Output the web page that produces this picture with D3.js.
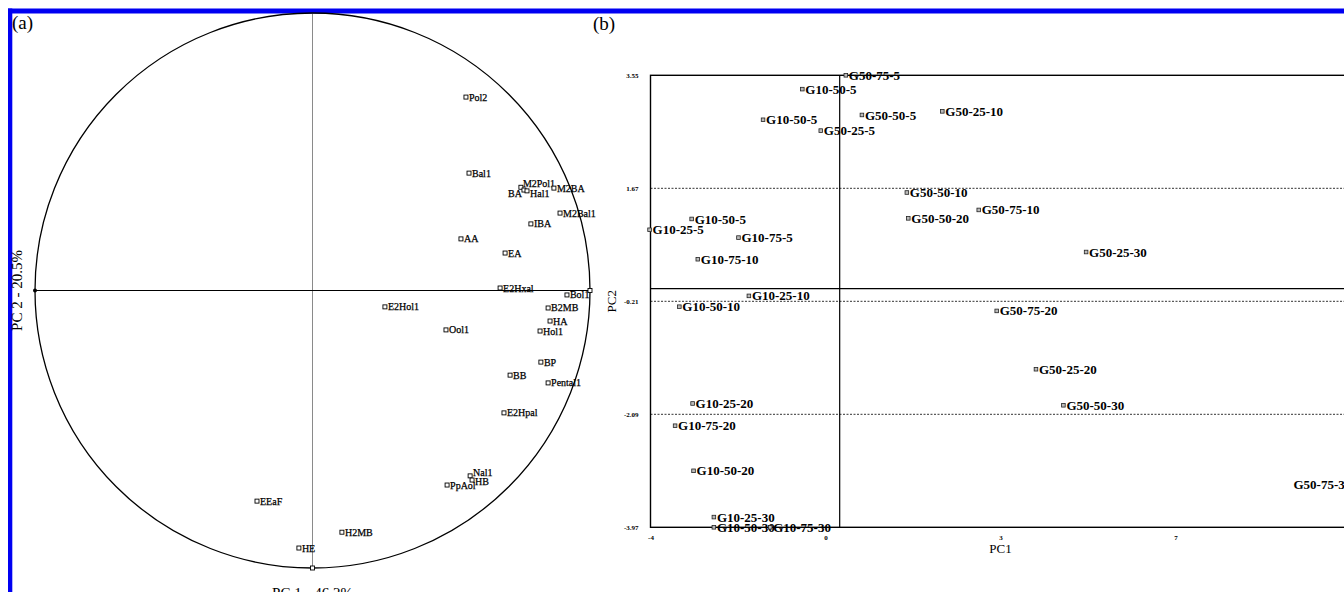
<!DOCTYPE html>
<html>
<head>
<meta charset="utf-8">
<script src="https://cdn.jsdelivr.net/npm/d3@7"></script>
<style>
  html, body { margin: 0; padding: 0; background: #fff; overflow: hidden; }
  svg { display: block; }
</style>
</head>
<body>
<svg id="fig" width="1344" height="592"></svg>
<script>
// ---- (a) loading plot: variables on the correlation circle ----
const loadingNames = ["Pol2", "Bal1", "M2Pol1", "BA", "Hal1", "M2BA", "M2Bal1", "IBA", "AA", "EA",
  "E2Hxal", "Bol1", "E2Hol1", "B2MB", "HA", "Hol1", "Ool1", "BP", "BB", "Pental1",
  "E2Hpal", "Nal1", "HB", "PpAol", "H2MB", "EEaF", "HE"];
const loadingPC1 = [0.553, 0.564, 0.751, 0.762, 0.773, 0.870, 0.892, 0.787, 0.535, 0.694,
  0.676, 0.917, 0.261, 0.849, 0.856, 0.820, 0.481, 0.823, 0.712, 0.849,
  0.690, 0.568, 0.575, 0.485, 0.106, -0.200, -0.049];
const loadingPC2 = [0.697, 0.423, 0.372, 0.362, 0.359, 0.369, 0.279, 0.240, 0.186, 0.135,
  0.009, -0.016, -0.059, -0.063, -0.110, -0.146, -0.142, -0.258, -0.305, -0.333,
  -0.441, -0.668, -0.683, -0.701, -0.871, -0.759, -0.928];

// ---- (b) score plot: samples ----
const sampleNames = ["G50-75-5", "G10-50-5", "G10-50-5", "G50-25-5", "G50-50-5", "G50-25-10",
  "G50-50-10", "G50-50-20", "G50-75-10", "G50-25-30", "G10-50-5", "G10-25-5", "G10-75-5",
  "G10-75-10", "G10-25-10", "G10-50-10", "G50-75-20", "G50-25-20", "G50-50-30",
  "G10-25-20", "G10-75-20", "G10-50-20", "G10-25-30", "G10-50-30", "G10-75-30", "G50-75-30"];
const scorePC1 = [0.13, -0.79, -1.62, -0.40, 0.47, 2.17,
  1.42, 1.45, 2.94, 5.21, -3.13, -4.02, -2.14,
  -3.00, -1.92, -3.39, 3.32, 4.15, 4.73,
  -3.11, -3.48, -3.09, -2.66, -2.66, -1.47, 10.9];
const scorePC2 = [3.55, 3.32, 2.81, 2.63, 2.89, 2.95,
  1.60, 1.17, 1.31, 0.61, 1.16, 0.98, 0.85,
  0.49, -0.12, -0.30, -0.37, -1.34, -1.94,
  -1.91, -2.28, -3.03, -3.80, -3.97, -3.97, -3.25];

const scoreXTicks = [-4, -0.3, 3.4, 7.1];
const scoreXTickLabels = ["-4", "0", "3", "7"];
const scoreYTicks = [-3.97, -2.09, -0.21, 1.67, 3.55];
const scoreYTickLabels = ["-3.97", "-2.09", "-0.21", "1.67", "3.55"];

const serif = "'Liberation Serif','Times New Roman',serif";
const svg = d3.select("#fig");

// outer blue frame (top and left edges)
svg.append("rect").attr("x", 8).attr("y", 8.5).attr("width", 1336).attr("height", 5).attr("fill", "#0000f2");
svg.append("rect").attr("x", 8).attr("y", 8.5).attr("width", 4.3).attr("height", 584).attr("fill", "#0000f2");

// ================= panel (a) =================
const ax = d3.scaleLinear().domain([-1, 1]).range([35, 590]);
const ay = d3.scaleLinear().domain([-1, 1]).range([568, 13]);
const ga = svg.append("g");

ga.append("line")
  .attr("x1", ax(0)).attr("x2", ax(0)).attr("y1", ay(1)).attr("y2", ay(-1))
  .attr("stroke", "#8a8a8a").attr("stroke-width", 1);
ga.append("line")
  .attr("x1", ax(-1)).attr("x2", ax(1)).attr("y1", ay(0)).attr("y2", ay(0))
  .attr("stroke", "#000").attr("stroke-width", 1);
ga.append("circle")
  .attr("cx", ax(0)).attr("cy", ay(0)).attr("r", ax(1) - ax(0))
  .attr("fill", "none").attr("stroke", "#000").attr("stroke-width", 1.3);

// unit reference marks on the circle
ga.append("circle").attr("cx", ax(-1)).attr("cy", ay(0)).attr("r", 2).attr("fill", "#000");
[[1, 0], [0, -1]].forEach(([u, v]) => {
  ga.append("rect").attr("x", ax(u) - 2).attr("y", ay(v) - 2).attr("width", 4).attr("height", 4)
    .attr("fill", "#fff").attr("stroke", "#000").attr("stroke-width", 0.9);
});

// label placement tweaks for crowded variables
const loadNudge = {
  "M2Pol1": { dx: 2, dy: -4 },
  "BA": { dx: -2, dy: 3, anchor: "end" },
  "Hal1": { dx: 3, dy: 3 },
  "Nal1": { dx: 3, dy: -3 },
  "HB": { dx: 3, dy: 1.5 }
};

const loadData = loadingNames.map((n, i) => ({ name: n, x: loadingPC1[i], y: loadingPC2[i] }));
const lp = ga.selectAll("g.var").data(loadData).join("g").attr("class", "var");
lp.append("rect")
  .attr("x", d => ax(d.x) - 2).attr("y", d => ay(d.y) - 2)
  .attr("width", 4).attr("height", 4)
  .attr("fill", "#fff").attr("stroke", "#000").attr("stroke-width", 0.9);
lp.append("text")
  .attr("x", d => ax(d.x) + ((loadNudge[d.name] || {}).dx ?? 3))
  .attr("y", d => ay(d.y) + ((loadNudge[d.name] || {}).dy ?? 0))
  .attr("dy", "0.35em")
  .attr("text-anchor", d => (loadNudge[d.name] || {}).anchor || "start")
  .attr("font-family", serif).attr("font-size", 10).attr("fill", "#000")
  .attr("stroke", "#000").attr("stroke-width", 0.25)
  .text(d => d.name);

ga.append("text")
  .attr("transform", `translate(22,${ay(0)}) rotate(-90)`)
  .attr("text-anchor", "middle")
  .attr("font-family", serif).attr("font-size", 15)
  .text("PC 2 - 20.5%");
ga.append("text")
  .attr("x", ax(0)).attr("y", 598)
  .attr("text-anchor", "middle")
  .attr("font-family", serif).attr("font-size", 15)
  .text("PC 1 - 46.2%");
ga.append("text")
  .attr("x", 12).attr("y", 29)
  .attr("font-family", serif).attr("font-size", 19)
  .text("(a)");

// ================= panel (b) =================
const bx = d3.scaleLinear().domain([-4, 10.8]).range([650.5, 1350.5]);
const by = d3.scaleLinear().domain([-3.97, 3.55]).range([527.3, 75.3]);
const gb = svg.append("g");

// dotted grid at the inner y ticks
gb.selectAll("line.grid")
  .data(scoreYTicks.slice(1, -1))
  .join("line").attr("class", "grid")
  .attr("x1", bx(-4)).attr("x2", bx(10.8))
  .attr("y1", d => by(d)).attr("y2", d => by(d))
  .attr("stroke", "#333").attr("stroke-width", 1).attr("stroke-dasharray", "2,1.5");

// zero lines
gb.append("line")
  .attr("x1", bx(-4)).attr("x2", bx(10.8)).attr("y1", by(0)).attr("y2", by(0))
  .attr("stroke", "#000").attr("stroke-width", 1.2);
gb.append("line")
  .attr("x1", bx(0)).attr("x2", bx(0)).attr("y1", by(3.55)).attr("y2", by(-3.97))
  .attr("stroke", "#000").attr("stroke-width", 1.2);

// plot frame
gb.append("rect")
  .attr("x", bx(-4)).attr("y", by(3.55))
  .attr("width", bx(10.8) - bx(-4)).attr("height", by(-3.97) - by(3.55))
  .attr("fill", "none").attr("stroke", "#000").attr("stroke-width", 1.4);

// axes
const yAxis = d3.axisLeft(by).tickValues(scoreYTicks)
  .tickFormat((d, i) => scoreYTickLabels[i]).tickSize(0).tickPadding(12);
const xAxis = d3.axisBottom(bx).tickValues(scoreXTicks)
  .tickFormat((d, i) => scoreXTickLabels[i]).tickSize(0).tickPadding(8);
const gy = gb.append("g").attr("transform", `translate(${bx(-4)},0)`).call(yAxis);
const gx = gb.append("g").attr("transform", `translate(0,${by(-3.97)})`).call(xAxis);
[gy, gx].forEach(g => {
  g.select(".domain").remove();
  g.selectAll("text").attr("font-family", serif).attr("font-size", 7)
    .attr("font-weight", "bold").attr("fill", "#000");
});

gb.append("text")
  .attr("x", bx(3.4)).attr("y", 553)
  .attr("text-anchor", "middle")
  .attr("font-family", serif).attr("font-size", 13)
  .text("PC1");
gb.append("text")
  .attr("transform", `translate(616,${(by(3.55) + by(-3.97)) / 2}) rotate(-90)`)
  .attr("text-anchor", "middle")
  .attr("font-family", serif).attr("font-size", 13)
  .text("PC2");
gb.append("text")
  .attr("x", 593).attr("y", 30)
  .attr("font-family", serif).attr("font-size", 19)
  .text("(b)");

const sampleData = sampleNames.map((n, i) => ({ name: n, x: scorePC1[i], y: scorePC2[i] }));
const sp = gb.selectAll("g.sample").data(sampleData).join("g").attr("class", "sample");
sp.append("rect")
  .attr("x", d => bx(d.x) - 1.8).attr("y", d => by(d.y) - 1.8)
  .attr("width", 3.6).attr("height", 3.6)
  .attr("fill", "#bbb").attr("stroke", "#222").attr("stroke-width", 0.8);
sp.append("text")
  .attr("x", d => d.x > 10 ? bx(d.x) - 4 : bx(d.x) + 3)
  .attr("y", d => by(d.y))
  .attr("dy", "0.35em")
  .attr("text-anchor", d => d.x > 10 ? "end" : "start")
  .attr("font-family", serif).attr("font-size", 13).attr("font-weight", "bold")
  .attr("fill", "#000")
  .text(d => d.name);
</script>
</body>
</html>
